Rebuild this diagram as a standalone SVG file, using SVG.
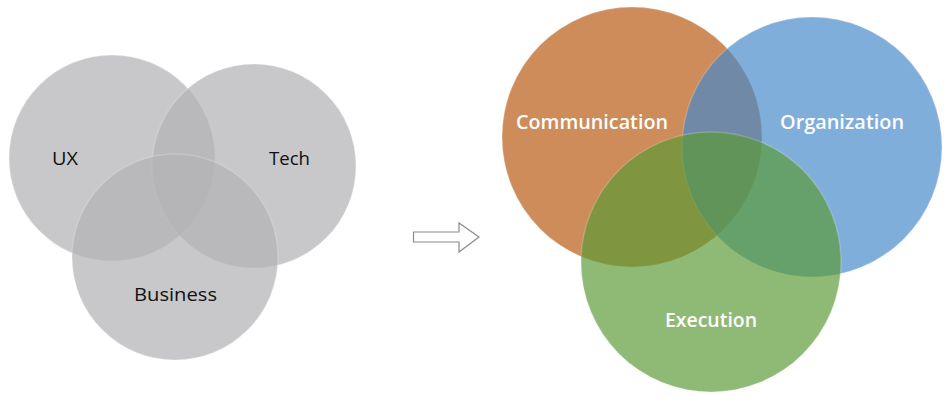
<svg xmlns="http://www.w3.org/2000/svg" width="950" height="406" viewBox="0 0 950 406">
<style>
.g{fill:#b4b4b6;fill-opacity:0.73;stroke:#ffffff;stroke-opacity:0.2;stroke-width:1.5}
.c{fill-opacity:0.68;stroke:#ffffff;stroke-opacity:0.2;stroke-width:1.5}
.lk{font-family:"Open Sans","Noto Sans",sans-serif;font-size:18px;fill:#111111}
.lw{font-family:"Open Sans","Noto Sans",sans-serif;font-size:19px;font-weight:600;fill:#ffffff}
</style>
<rect width="950" height="406" fill="#ffffff"/>
<g id="ux"><circle class="g" cx="112" cy="158" r="103"/></g>
<g id="tech"><circle class="g" cx="254" cy="166" r="102"/></g>
<g id="business"><circle class="g" cx="175" cy="257" r="103"/></g>
<g id="labels-left">
<text class="lk" x="52" y="165" textLength="26" lengthAdjust="spacingAndGlyphs">UX</text>
<text class="lk" x="269" y="165" textLength="41" lengthAdjust="spacingAndGlyphs">Tech</text>
<text class="lk" x="134" y="301" textLength="83" lengthAdjust="spacingAndGlyphs">Business</text>
</g>
<g id="connectors">
<path d="M413.5,232 L459,232 L459,223 L479,237 L459,252 L459,242 L413.5,242 Z" fill="#ffffff" stroke="#8a8a8a" stroke-width="1.2" stroke-linejoin="miter"/>
</g>
<g id="communication"><circle class="c" fill="#b5560c" cx="632" cy="137" r="130"/></g>
<g id="organization"><circle class="c" fill="#4488ca" cx="812" cy="147" r="130"/></g>
<g id="execution"><circle class="c" fill="#5a9933" cx="711" cy="262" r="130"/></g>
<g id="labels-right">
<text class="lw" x="516" y="129" textLength="152" lengthAdjust="spacingAndGlyphs">Communication</text>
<text class="lw" x="780" y="129" textLength="124" lengthAdjust="spacingAndGlyphs">Organization</text>
<text class="lw" x="665" y="327" textLength="92" lengthAdjust="spacingAndGlyphs">Execution</text>
</g>
</svg>
